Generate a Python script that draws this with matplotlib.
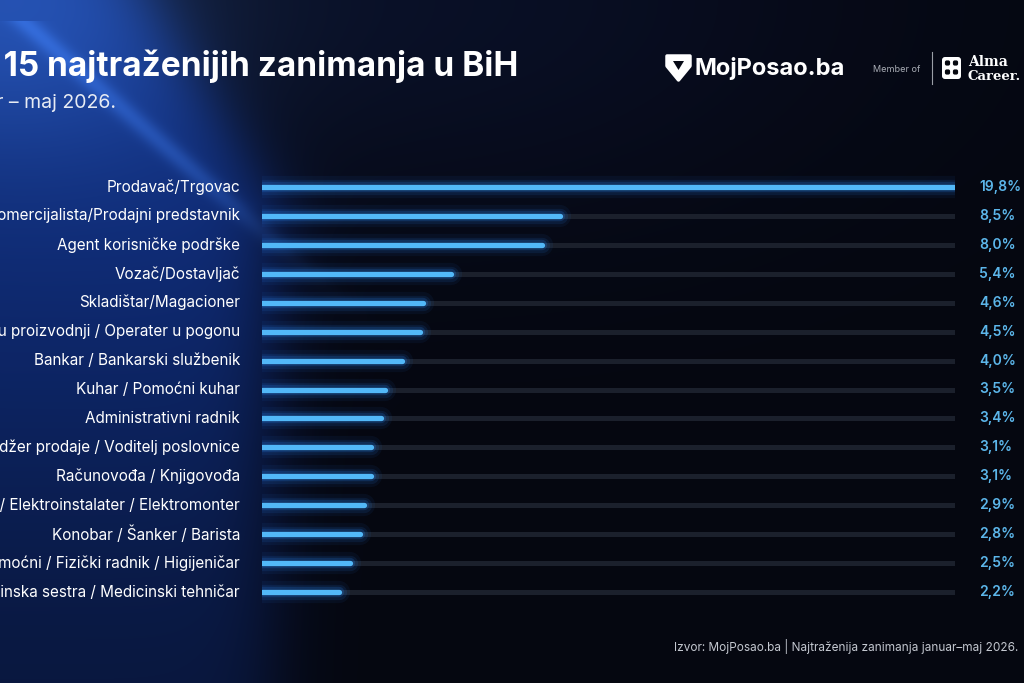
import numpy as np
import matplotlib
matplotlib.use("Agg")
import matplotlib.pyplot as plt
from matplotlib.transforms import blended_transform_factory
from matplotlib.patches import Polygon, FancyBboxPatch

plt.rcParams['font.family'] = ['Inter', 'DejaVu Sans']

# podaci
zanimanja = [
    'Prodavač/Trgovac',
    'Komercijalista/Prodajni predstavnik',
    'Agent korisničke podrške',
    'Vozač/Dostavljač',
    'Skladištar/Magacioner',
    'Radnik u proizvodnji / Operater u pogonu',
    'Bankar / Bankarski službenik',
    'Kuhar / Pomoćni kuhar',
    'Administrativni radnik',
    'Menadžer prodaje / Voditelj poslovnice',
    'Računovođa / Knjigovođa',
    'Električar / Elektroinstalater / Elektromonter',
    'Konobar / Šanker / Barista',
    'Radnik pomoćni / Fizički radnik / Higijeničar',
    'Medicinska sestra / Medicinski tehničar',
]
udio = [19.8, 8.5, 8.0, 5.4, 4.6, 4.5, 4.0, 3.5, 3.4, 3.1, 3.1, 2.9, 2.8, 2.5, 2.2]
oznake = [f'{v:.1f}%'.replace('.', ',') for v in udio]

naslov = 'Top 15 najtraženijih zanimanja u BiH'
podnaslov = 'Januar – maj 2026.'
izvor = 'Izvor: MojPosao.ba | Najtraženija zanimanja januar–maj 2026.'

W, H = 1024, 683
fig = plt.figure(figsize=(W / 100, H / 100), dpi=100)

# pozadina s plavim snopom svjetla
bg = fig.add_axes([0, 0, 1, 1])
yy, xx = np.mgrid[0:H, 0:W].astype(float)
xb = np.minimum(150 + 0.6 * yy, 272)
inside = 1 / (1 + np.exp(-(xb - xx) / 22))
vfade = 0.42 + 0.58 * np.exp(-(np.maximum(yy - 200, 0) / 340) ** 2)
# svijetla dijagonalna traka
s2 = (yy - 80) * 0.75 - (xx - 90) * 0.66
streak = np.exp(-(s2 / 10) ** 2) * np.exp(-(np.maximum(yy - 150, 0) / 90) ** 2) * (yy > 20)
corner = np.exp(-((xx / 220) ** 2 + (yy / 160) ** 2))
base = np.array([5, 7, 16]) / 255
blue = np.array([14, 41, 112]) / 255
bright = np.array([45, 95, 195]) / 255
img = (base[None, None, :]
       + (inside * vfade)[:, :, None] * (blue - base)[None, None, :]
       + (0.5 * streak + 0.7 * corner)[:, :, None] * (bright - blue)[None, None, :])
top_navy = np.exp(-(yy / 220) ** 2) * np.exp(-((xx - 420) / 420) ** 2) * 0.55
img += top_navy[:, :, None] * (np.array([12, 22, 55]) / 255 - base)[None, None, :]
img = np.clip(img, 0, 1)
bg.imshow(img, extent=[0, W, H, 0], aspect='auto')
bg.set_xlim(0, W)
bg.set_ylim(H, 0)
bg.axis('off')

# naslov
bg.text(518, 66, naslov, ha='right', va='center', fontsize=24, fontweight='bold', color='white')
bg.text(116, 103, podnaslov, ha='right', va='center', fontsize=14, color='#e8ecf4')

# logo MojPosao
shield = Polygon([[667, 56], [690, 56], [690, 66], [678.5, 80], [667, 66]], closed=True,
                 facecolor='white', edgecolor='white', lw=2.5, joinstyle='round')
bg.add_patch(shield)
bg.add_patch(Polygon([[673, 61], [684, 61], [678.5, 70]], closed=True, facecolor='#070a16'))
bg.text(695, 68, 'MojPosao.ba', ha='left', va='center', fontsize=17, fontweight='bold', color='white')
bg.text(873, 69, 'Member of', ha='left', va='center', fontsize=6.5, color='#a8acb4')
bg.plot([932, 932], [52, 84], color='#9a9ea6', lw=0.8)
bg.add_patch(FancyBboxPatch((942, 57), 19, 22, boxstyle='round,pad=0,rounding_size=3',
                            facecolor='white', edgecolor='none'))
for cx, cy in [(947.5, 63), (955.5, 63), (947.5, 72), (955.5, 72)]:
    bg.add_patch(FancyBboxPatch((cx - 2.6, cy - 2.6), 5.2, 5.2, boxstyle='round,pad=0,rounding_size=1.8',
                                facecolor='#06080f', edgecolor='none'))
bg.text(968, 62, 'Alma', ha='left', va='center', fontsize=10, fontweight='bold',
        color='white', family='DejaVu Serif')
bg.text(968, 76, 'Career.', ha='left', va='center', fontsize=9.5, fontweight='bold',
        color='white', family='DejaVu Serif')

# izvor
bg.text(1018, 647, izvor, ha='right', va='center', fontsize=8.5, color='#c4c8d0')

# stupci
ax = fig.add_axes([262 / W, 1 - 606.5 / H, (955 - 262) / W, (606.5 - 172.5) / H])
ax.set_xlim(0, max(udio))
ax.set_ylim(len(udio) - 0.5, -0.5)
ax.axis('off')
ax.patch.set_alpha(0)
pos = np.arange(len(udio))
for i, v in zip(pos, udio):
    ax.plot([0, max(udio)], [i, i], color='#1b202c', lw=3.6, solid_capstyle='round', zorder=1)
    for lw, a in [(16, 0.06), (11, 0.1), (7.5, 0.18)]:
        ax.plot([0, v], [i, i], color='#2b8cff', lw=lw, alpha=a, solid_capstyle='round', zorder=2)
    ax.plot([0, v], [i, i], color='#52b8f8', lw=3.8, solid_capstyle='round', zorder=3)

tr_lbl = blended_transform_factory(bg.transData, ax.transData)
for i, (name, lab) in enumerate(zip(zanimanja, oznake)):
    ax.text(240, i, name, transform=tr_lbl, ha='right', va='center', fontsize=11, color='white',
            clip_on=False)
    ax.text(979, i, lab, transform=tr_lbl, ha='left', va='center', fontsize=10,
            fontweight='semibold', color='#5cb6ea')

fig.savefig('out.png', dpi=100)
